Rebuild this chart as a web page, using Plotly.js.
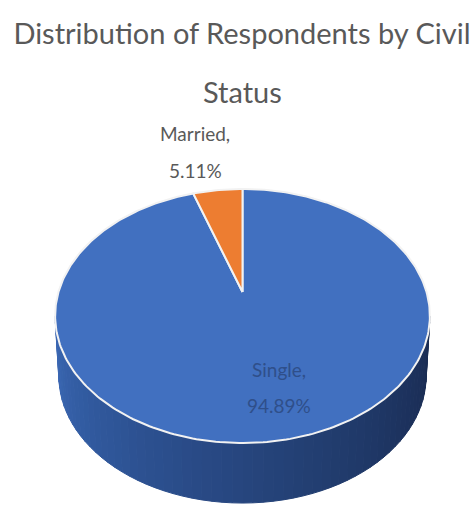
<!DOCTYPE html>
<html>
<head>
<meta charset="utf-8">
<script src="https://cdn.plot.ly/plotly-3.0.1.min.js"></script>
<style>html,body{margin:0;padding:0;background:#fff}#chart{width:474px;height:508px}</style>
</head>
<body>
<div id="chart"></div>
<script>
// Civil status of respondents, drawn as a tilted pie with a side wall.
const statuses = ["Single", "Married"];
const shares = [94.89, 5.11];
const sliceColors = ["#4170c0", "#ed7d31"];
const titleLines = ["Distribution of Respondents by Civil", "Status"];
const labelAnchors = [[279, 369, 405], [195, 133, 170]];

// Wall shading from its left end to its right end.
const wallStops = ["#3b68b4", "#315a9f", "#2a4c89", "#233f73", "#1d3360", "#192b50"];

// Projected disc: the far edge is foreshortened, so the centre sits above the ellipse middle.
const CX = 242.5, CY = 292, RX = 184, RY = 122.5, TILT = 0.189;
const DEPTH = 60, BOTTOM_SCALE = 0.98;
const WALL_FROM = 101, WALL_TO = 259, WALL_STEPS = 60;
const TEXT_FAMILY = "Lato, Open Sans, sans-serif";

function rim(deg) {
  const t = deg * Math.PI / 180, w = 1 + TILT * Math.cos(t);
  return [CX + RX * Math.sin(t) / w, CY - RY * Math.cos(t) / w];
}
function lowerRim(deg) {
  const p = rim(deg);
  return [CX + (p[0] - CX) * BOTTOM_SCALE, p[1] + DEPTH];
}
function hex(c) { return [1, 3, 5].map(i => parseInt(c.substr(i, 2), 16)); }
function wallColor(f) {
  const s = f * (wallStops.length - 1), i = Math.min(Math.floor(s), wallStops.length - 2);
  const a = hex(wallStops[i]), b = hex(wallStops[i + 1]), k = s - i;
  return "rgb(" + a.map((v, j) => Math.round(v + (b[j] - v) * k)).join(",") + ")";
}

const traces = [];

// Side wall, front arc only; the angle runs right to left, so flip the shading.
for (let n = 0; n < WALL_STEPS; n++) {
  const a0 = WALL_FROM + (WALL_TO - WALL_FROM) * n / WALL_STEPS;
  const a1 = WALL_FROM + (WALL_TO - WALL_FROM) * (n + 1) / WALL_STEPS;
  const pts = [rim(a0), rim(a1), lowerRim(a1), lowerRim(a0), rim(a0)];
  const col = wallColor(1 - (n + 0.5) / WALL_STEPS);
  traces.push({
    type: "scatter", mode: "lines", fill: "toself", fillcolor: col,
    x: pts.map(p => p[0]), y: pts.map(p => p[1]),
    line: {color: col, width: 1}, hoverinfo: "skip", showlegend: false
  });
}

// Top face: one wedge per status, clockwise from twelve o'clock.
const total = shares.reduce((a, b) => a + b, 0);
let start = 0;
statuses.forEach((name, i) => {
  const sweep = shares[i] / total * 360;
  const xs = [CX], ys = [CY];
  const steps = Math.max(4, Math.ceil(sweep));
  for (let s = 0; s <= steps; s++) {
    const p = rim(start + sweep * s / steps);
    xs.push(p[0]); ys.push(p[1]);
  }
  xs.push(CX); ys.push(CY);
  traces.push({
    type: "scatter", mode: "lines", fill: "toself", fillcolor: sliceColors[i],
    x: xs, y: ys, name: name,
    line: {color: "#f2f2f2", width: 2}, hoverinfo: "name", showlegend: false
  });
  start += sweep;
});

// Each label is two lines, name then percentage.
const annotations = [];
const labelFont = {family: TEXT_FAMILY, size: 19};
statuses.forEach((name, i) => {
  const [x, y1, y2] = labelAnchors[i];
  const color = i === 0 ? "#2f4f8a" : "#595959";
  annotations.push({x, y: y1, xref: "x", yref: "y", text: name + ",", showarrow: false,
    font: Object.assign({color}, labelFont)});
  annotations.push({x, y: y2, xref: "x", yref: "y", text: shares[i].toFixed(2) + "%", showarrow: false,
    font: Object.assign({color}, labelFont)});
});
annotations.push({x: 242, y: 91, xref: "x", yref: "y", text: titleLines[1], showarrow: false,
  font: {family: TEXT_FAMILY, size: 29, color: "#595959"}});

const layout = {
  width: 474, height: 508,
  margin: {l: 0, r: 0, t: 0, b: 0},
  paper_bgcolor: "#ffffff", plot_bgcolor: "#ffffff",
  showlegend: false,
  title: {
    text: titleLines[0], x: 242 / 474, xanchor: "center", y: 1 - 34 / 508, yanchor: "middle",
    font: {family: TEXT_FAMILY, size: 29, color: "#595959"}
  },
  xaxis: {range: [0, 474], visible: false, fixedrange: true},
  yaxis: {range: [508, 0], visible: false, fixedrange: true},
  annotations
};

Plotly.newPlot("chart", traces, layout, {displayModeBar: false, responsive: false});
</script>
</body>
</html>
